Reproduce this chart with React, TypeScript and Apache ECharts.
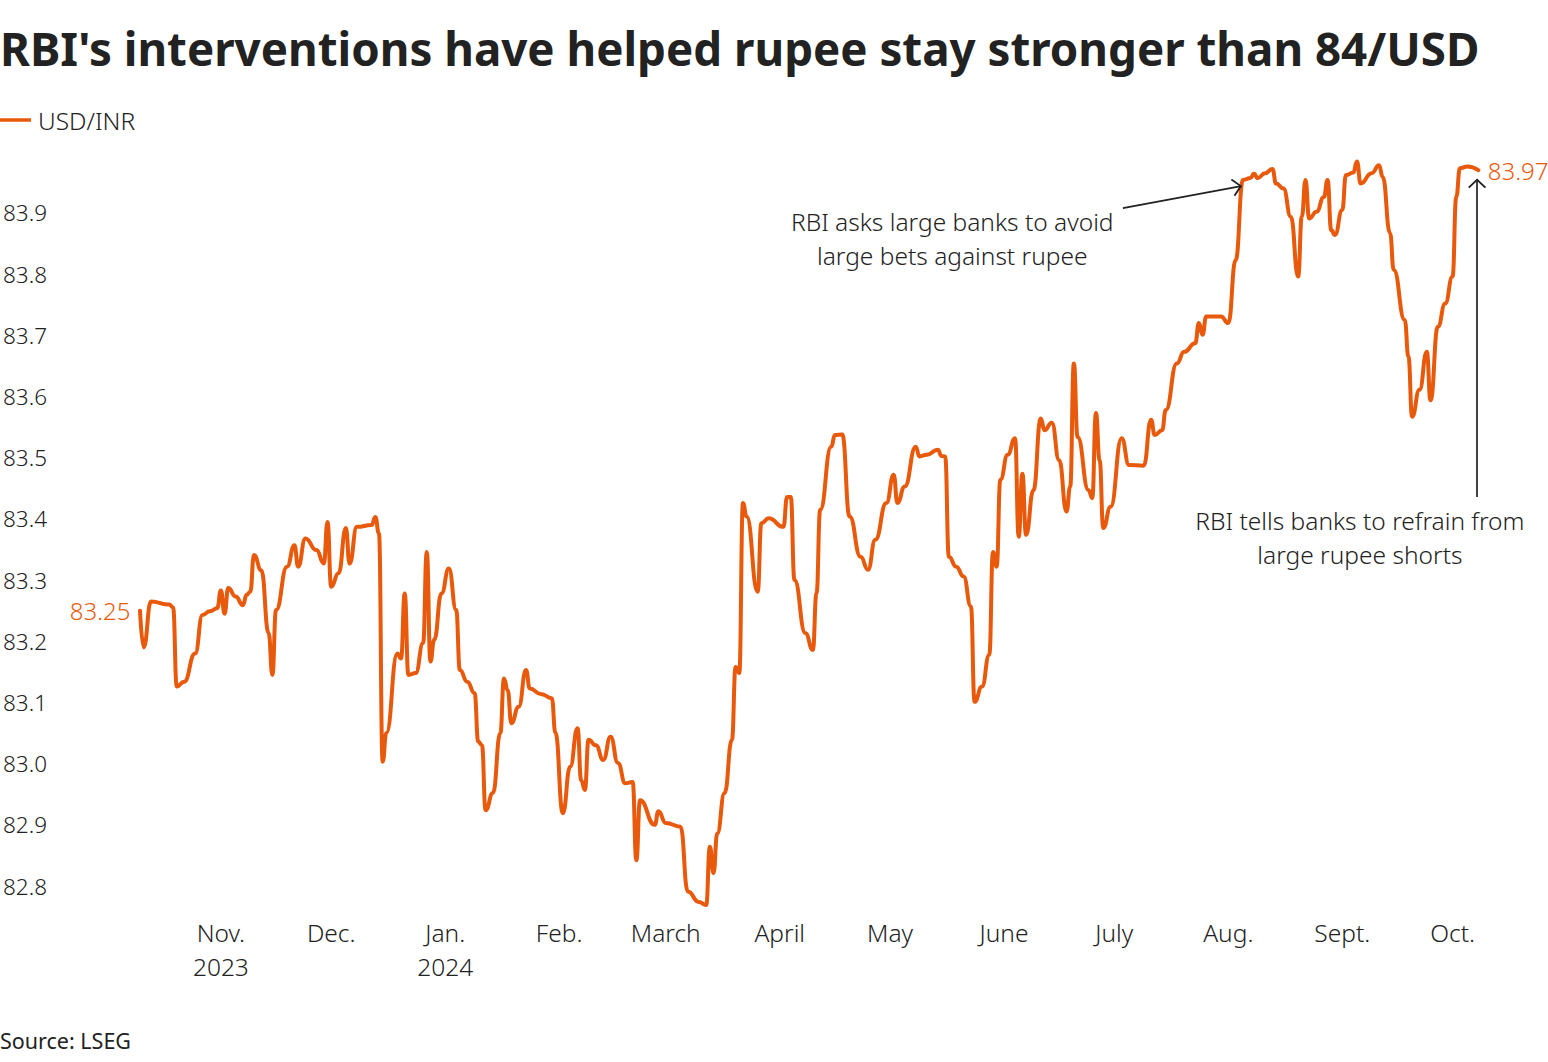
import React, { useEffect, useRef } from "react";
import * as echarts from "echarts";

const TITLE = "RBI's interventions have helped rupee stay stronger than 84/USD";
const SERIES_NAME = "USD/INR";
const SOURCE = "Source: LSEG";
const ORANGE = "#e8590c";
const INK = "#222222";
const FONT = "'Noto Sans', sans-serif";

const MONTH_NAMES = ["Jan.", "Feb.", "March", "April", "May", "June", "July", "Aug.", "Sept.", "Oct.", "Nov.", "Dec."];
const YEAR_TICKS = ["2023-10", "2024-0"]; // year-month(index) keys whose label carries the year

const dates = [
  "2023-10-10", "2023-10-11", "2023-10-13", "2023-10-18", "2023-10-19", "2023-10-20", "2023-10-22", "2023-10-25",
  "2023-10-27", "2023-10-29", "2023-10-31", "2023-11-01", "2023-11-02", "2023-11-03", "2023-11-05", "2023-11-07",
  "2023-11-08", "2023-11-09", "2023-11-10", "2023-11-12", "2023-11-14", "2023-11-15", "2023-11-16", "2023-11-19",
  "2023-11-21", "2023-11-22", "2023-11-24", "2023-11-27", "2023-11-29", "2023-11-30", "2023-12-01", "2023-12-03",
  "2023-12-05", "2023-12-06", "2023-12-08", "2023-12-12", "2023-12-13", "2023-12-14", "2023-12-15", "2023-12-16",
  "2023-12-19", "2023-12-20", "2023-12-21", "2023-12-22", "2023-12-24", "2023-12-26", "2023-12-27", "2023-12-28",
  "2023-12-29", "2023-12-31", "2024-01-02", "2024-01-04", "2024-01-05", "2024-01-07", "2024-01-09", "2024-01-10",
  "2024-01-11", "2024-01-12", "2024-01-14", "2024-01-16", "2024-01-17", "2024-01-18", "2024-01-19", "2024-01-21",
  "2024-01-23", "2024-01-24", "2024-01-27", "2024-01-30", "2024-01-31", "2024-02-02", "2024-02-04", "2024-02-06",
  "2024-02-07", "2024-02-08", "2024-02-09", "2024-02-11", "2024-02-13", "2024-02-15", "2024-02-17", "2024-02-19",
  "2024-02-21", "2024-02-22", "2024-02-23", "2024-02-27", "2024-02-28", "2024-03-01", "2024-03-05", "2024-03-07",
  "2024-03-10", "2024-03-12", "2024-03-13", "2024-03-14", "2024-03-15", "2024-03-17", "2024-03-19", "2024-03-20",
  "2024-03-21", "2024-03-22", "2024-03-23", "2024-03-26", "2024-03-27", "2024-03-29", "2024-04-02", "2024-04-03",
  "2024-04-04", "2024-04-05", "2024-04-08", "2024-04-10", "2024-04-11", "2024-04-12", "2024-04-15", "2024-04-16",
  "2024-04-18", "2024-04-20", "2024-04-23", "2024-04-25", "2024-04-27", "2024-04-30", "2024-05-02", "2024-05-03",
  "2024-05-05", "2024-05-08", "2024-05-09", "2024-05-11", "2024-05-14", "2024-05-15", "2024-05-16", "2024-05-17",
  "2024-05-19", "2024-05-21", "2024-05-23", "2024-05-24", "2024-05-26", "2024-05-28", "2024-05-29", "2024-05-30",
  "2024-05-31", "2024-06-02", "2024-06-04", "2024-06-05", "2024-06-06", "2024-06-07", "2024-06-09", "2024-06-11",
  "2024-06-12", "2024-06-14", "2024-06-16", "2024-06-18", "2024-06-19", "2024-06-20", "2024-06-21", "2024-06-24",
  "2024-06-25", "2024-06-26", "2024-06-27", "2024-06-28", "2024-06-30", "2024-07-03", "2024-07-05", "2024-07-09",
  "2024-07-11", "2024-07-12", "2024-07-14", "2024-07-15", "2024-07-18", "2024-07-20", "2024-07-23", "2024-07-24",
  "2024-07-25", "2024-07-26", "2024-07-30", "2024-08-01", "2024-08-03", "2024-08-05", "2024-08-07", "2024-08-08",
  "2024-08-09", "2024-08-11", "2024-08-13", "2024-08-14", "2024-08-16", "2024-08-18", "2024-08-20", "2024-08-21",
  "2024-08-22", "2024-08-23", "2024-08-25", "2024-08-27", "2024-08-28", "2024-08-29", "2024-08-30", "2024-09-01",
  "2024-09-02", "2024-09-04", "2024-09-05", "2024-09-06", "2024-09-09", "2024-09-11", "2024-09-12", "2024-09-14",
  "2024-09-15", "2024-09-18", "2024-09-19", "2024-09-20", "2024-09-22", "2024-09-24", "2024-09-25", "2024-09-27",
  "2024-09-29", "2024-10-01", "2024-10-02", "2024-10-03", "2024-10-05", "2024-10-08",
];

const usdInr = [
  83.25, 83.19, 83.265, 83.26, 83.255, 83.126, 83.134, 83.18,
  83.243, 83.249, 83.254, 83.283, 83.245, 83.287, 83.273, 83.259,
  83.276, 83.281, 83.341, 83.316, 83.213, 83.145, 83.251, 83.322,
  83.357, 83.322, 83.368, 83.349, 83.327, 83.395, 83.289, 83.311,
  83.385, 83.327, 83.387, 83.39, 83.403, 83.376, 83.003, 83.05,
  83.18, 83.172, 83.278, 83.145, 83.148, 83.197, 83.346, 83.167,
  83.202, 83.278, 83.319, 83.251, 83.153, 83.134, 83.115, 83.036,
  83.03, 82.924, 82.952, 83.05, 83.139, 83.12, 83.066, 83.093,
  83.153, 83.123, 83.114, 83.107, 83.05, 82.919, 82.995, 83.058,
  82.973, 82.957, 83.039, 83.03, 83.006, 83.044, 83.001, 82.968,
  82.97, 82.842, 82.94, 82.9, 82.922, 82.903, 82.897, 82.791,
  82.774, 82.769, 82.864, 82.821, 82.886, 82.952, 83.039, 83.158,
  83.148, 83.426, 83.404, 83.281, 83.393, 83.401, 83.387, 83.436,
  83.436, 83.3, 83.213, 83.186, 83.278, 83.415, 83.518, 83.537,
  83.538, 83.404, 83.338, 83.317, 83.366, 83.426, 83.472, 83.426,
  83.453, 83.518, 83.502, 83.505, 83.513, 83.503, 83.502, 83.338,
  83.322, 83.306, 83.257, 83.101, 83.126, 83.178, 83.346, 83.322,
  83.464, 83.505, 83.532, 83.371, 83.474, 83.374, 83.447, 83.564,
  83.545, 83.557, 83.496, 83.412, 83.453, 83.654, 83.534, 83.447,
  83.434, 83.573, 83.496, 83.385, 83.42, 83.532, 83.488, 83.487,
  83.562, 83.537, 83.545, 83.578, 83.654, 83.673, 83.687, 83.72,
  83.701, 83.731, 83.731, 83.72, 83.823, 83.954, 83.957, 83.964,
  83.957, 83.965, 83.972, 83.948, 83.94, 83.894, 83.796, 83.894,
  83.954, 83.891, 83.902, 83.926, 83.954, 83.872, 83.864, 83.905,
  83.962, 83.966, 83.984, 83.948, 83.965, 83.978, 83.959, 83.867,
  83.807, 83.725, 83.665, 83.567, 83.611, 83.673, 83.594, 83.714,
  83.752, 83.796, 83.926, 83.973, 83.976, 83.97,
];

// Annotations (anchored in data space)
const noteAugText = "RBI asks large banks to avoid\nlarge bets against rupee";
const noteAugAnchor = ["2024-05-17 22:00", 83.859];
const noteAugArrow = [["2024-07-03 08:00", 83.908], ["2024-08-04 12:00", 83.944]];
const noteOctText = "RBI tells banks to refrain from\nlarge rupee shorts";
const noteOctAnchor = ["2024-09-05 19:00", 83.369];
const noteOctArrow = [["2024-10-07 16:00", 83.436], ["2024-10-07 16:00", 83.955]];

const X_MIN = "2023-10-10";
const X_MAX = "2024-10-08";
const Y_MIN = 82.75;
const Y_MAX = 84.0;
const Y_STEP = 0.05;

// open chevron arrowhead, tip at the symbol centre
const CHEVRON =
  "path://M8,0 L8.05,0 L8,0.05 Z M0.5,14.5 L8,7 L15.5,14.5 L14.4,15.6 L8,9.2 L1.6,15.6 Z";

export default function App() {
  const ref = useRef<HTMLDivElement>(null);

  useEffect(() => {
    document.body.style.margin = "0";
    document.body.style.overflow = "hidden";
    if (!ref.current) return;
    const chart = echarts.init(ref.current, null, { renderer: "svg" });

    const last = dates.length - 1;
    const seriesData = dates.map((d, i) => [d, usdInr[i]]);

    const noteLabel = {
      show: true,
      position: "inside",
      align: "center",
      verticalAlign: "middle",
      color: INK,
      fontFamily: FONT,
      fontWeight: 300,
      fontSize: 24.5,
      lineHeight: 34,
    };
    const valueLabel = {
      show: true,
      color: ORANGE,
      fontFamily: FONT,
      fontWeight: 300,
      fontSize: 24,
      distance: 9,
      formatter: (p: any) => Number(p.value).toFixed(2),
    };

    chart.setOption({
      animation: false,
      backgroundColor: "#ffffff",
      title: [
        {
          text: TITLE,
          left: 0,
          top: 20,
          padding: 0,
          textStyle: { fontFamily: FONT, fontWeight: 700, fontSize: 45.7, lineHeight: 56, color: INK },
        },
        {
          text: SOURCE,
          left: 0,
          top: 1027,
          padding: 0,
          textStyle: { fontFamily: FONT, fontWeight: 400, fontSize: 21.5, lineHeight: 26, color: INK },
        },
      ],
      legend: {
        left: 0,
        top: 106,
        padding: 0,
        icon: "rect",
        itemWidth: 31,
        itemHeight: 3.5,
        itemGap: 10,
        textStyle: { fontFamily: FONT, fontWeight: 300, fontSize: 24.5, lineHeight: 28, color: INK, padding: [0, 0, 0, 2] },
        data: [SERIES_NAME],
      },
      grid: { left: 139, right: 69.7, top: 151.8, bottom: 145.4, containLabel: false },
      xAxis: {
        type: "time",
        min: X_MIN,
        max: X_MAX,
        minInterval: 28 * 86400000,
        maxInterval: 32 * 86400000,
        axisLine: { show: false },
        axisTick: { show: false },
        splitLine: { show: false },
        axisLabel: {
          interval: 0,
          hideOverlap: false,
          margin: -1,
          color: INK,
          fontFamily: FONT,
          fontWeight: 300,
          fontSize: 24.5,
          lineHeight: 34,
          formatter: (val: number) => {
            const d = new Date(val);
            if (d.getDate() !== 1 || d.getHours() !== 0) return "";
            const m = d.getMonth();
            const y = d.getFullYear();
            const name = MONTH_NAMES[m];
            if (YEAR_TICKS.indexOf(y + "-" + m) >= 0) return name + "\n" + y;
            return name;
          },
        },
      },
      yAxis: {
        type: "value",
        min: Y_MIN,
        max: Y_MAX,
        interval: Y_STEP,
        axisLine: { show: false },
        axisTick: { show: false },
        splitLine: { show: false },
        axisLabel: {
          align: "left",
          margin: 137,
          color: INK,
          fontFamily: FONT,
          fontWeight: 300,
          fontSize: 22.5,
          formatter: (v: number) => {
            const r = Math.round(v * 100);
            if (r % 10 !== 0) return "";
            if (r < 8280 || r > 8390) return "";
            return (r / 100).toFixed(1);
          },
        },
      },
      series: [
        {
          name: SERIES_NAME,
          type: "line",
          data: seriesData,
          showSymbol: false,
          smooth: 0.5,
          smoothMonotone: "x",
          color: ORANGE,
          lineStyle: { width: 4, color: ORANGE, cap: "round", join: "round" },
          markLine: {
            silent: true,
            symbol: ["none", CHEVRON],
            symbolSize: 18,
            label: { show: false },
            lineStyle: { color: INK, width: 1.7, type: "solid" },
            emphasis: { disabled: true },
            data: [
              [{ coord: noteAugArrow[0] }, { coord: noteAugArrow[1] }],
              [{ coord: noteOctArrow[0] }, { coord: noteOctArrow[1] }],
            ],
          },
          markPoint: {
            silent: true,
            symbol: "circle",
            symbolSize: 1,
            itemStyle: { color: "rgba(0,0,0,0)" },
            data: [
              { coord: noteAugAnchor, label: { ...noteLabel, formatter: noteAugText } },
              { coord: noteOctAnchor, label: { ...noteLabel, formatter: noteOctText } },
              { coord: [dates[0], usdInr[0]], value: usdInr[0], label: { ...valueLabel, position: "left" } },
              { coord: [dates[last], usdInr[last]], value: usdInr[last], label: { ...valueLabel, position: "right" } },
            ],
          },
        },
      ],
    });

    return () => chart.dispose();
  }, []);

  return <div ref={ref} style={{ width: 1548, height: 1062 }} />;
}
